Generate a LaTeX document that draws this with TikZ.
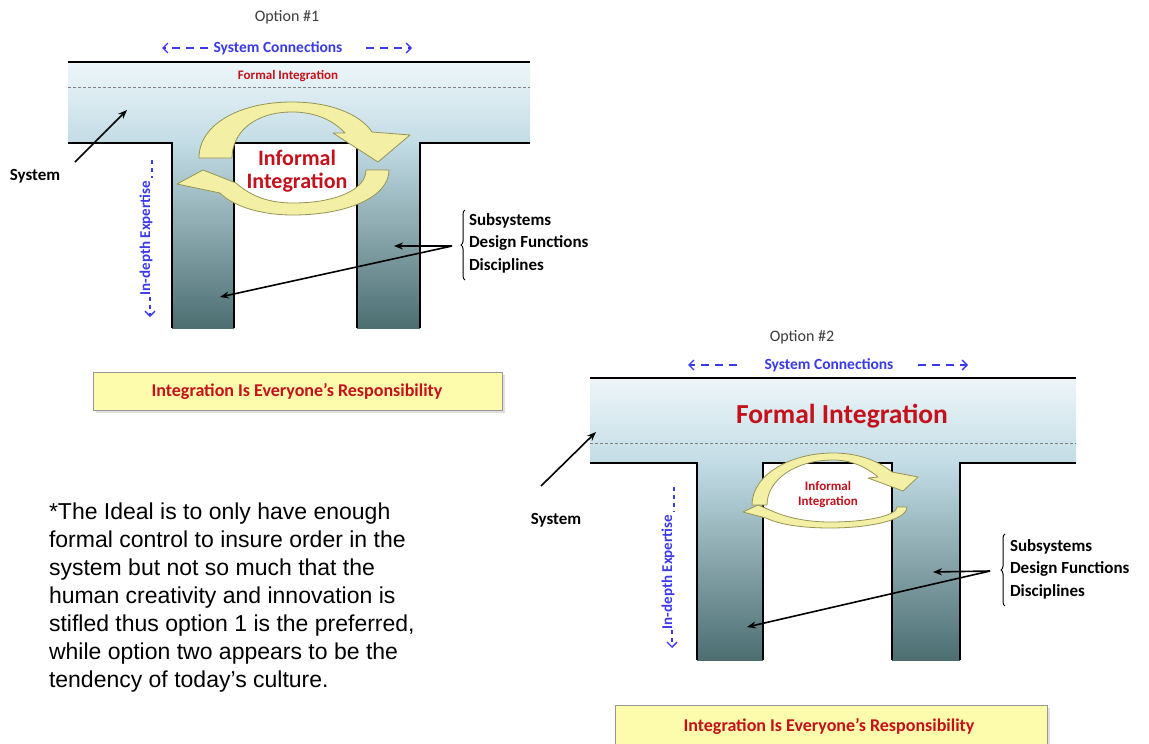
\documentclass[tikz,border=0pt]{standalone}
\usepackage{fontspec}
\setmainfont{Carlito}
\newfontfamily\arialfont{Liberation Sans}
\usetikzlibrary{arrows.meta,decorations.pathreplacing}
\definecolor{barTop}{RGB}{238,246,249}
\definecolor{barBot}{RGB}{194,220,229}
\definecolor{colMid}{RGB}{150,182,190}
\definecolor{colBot}{RGB}{76,110,113}
\definecolor{redtxt}{RGB}{196,18,28}
\definecolor{bluetxt}{RGB}{58,58,232}
\definecolor{arrfill}{RGB}{243,240,165}
\definecolor{arrline}{RGB}{150,148,85}
\definecolor{boxfill}{RGB}{252,252,172}
\definecolor{boxline}{RGB}{150,150,150}
\definecolor{optgray}{RGB}{60,60,60}
\begin{document}
\begin{tikzpicture}[x=1pt,y=-1pt,
  every node/.style={inner sep=0pt,outer sep=0pt},
  outline/.style={line width=2.3pt,black,line join=miter},
  topline/.style={line width=2.8pt,black},
  sepline/.style={gray,line width=0.8pt,dash pattern=on 3pt off 2pt},
  circarrow/.style={fill=arrfill,draw=arrline,line width=0.8pt,line join=round},
  barshade/.style={top color=barTop,bottom color=barBot},
  colshade/.style={top color=barBot,middle color=colMid,bottom color=colBot},
  title/.style={font=\fontsize{16}{19}\selectfont,text=optgray},
  syscon/.style={font=\fontsize{15.5}{18}\selectfont\bfseries,text=bluetxt},
  blued/.style={bluetxt,line width=1.3pt,dash pattern=on 8pt off 6pt,-{Straight Barb[length=5pt,width=10pt]}},
  redlbl/.style={font=\bfseries,text=redtxt,align=center},
  blk/.style={font=\fontsize{17}{22.5}\selectfont\bfseries,text=black},
  ptr/.style={-{Stealth[length=9pt,width=7pt]},line width=1.6pt,black},
  vert/.style={font=\fontsize{15}{17}\selectfont\bfseries,text=bluetxt,rotate=90},
  vdash/.style={bluetxt,line width=1.3pt,dash pattern=on 4pt off 4pt},
  respbox/.style={fill=boxfill,draw=boxline,line width=1pt},
  resptxt/.style={font=\fontsize{18}{22}\selectfont\bfseries,text=redtxt}
]
\useasboundingbox (0,0) rectangle (1149,744);
\fill[white] (0,0) rectangle (1149,744);

% ================= OPTION 1 =================
\shade[barshade] (68,62) rectangle (530,143);
\shade[colshade] (172,143) rectangle (234,328);
\shade[colshade] (357,143) rectangle (420,328);
\draw[sepline] (68,87) -- (530,87);
\draw[topline] (68,62) -- (530,62);
\draw[outline] (68,143) -- (172,143) -- (172,328);
\draw[outline] (234,328) -- (234,143) -- (357,143) -- (357,328);
\draw[outline] (420,328) -- (420,143) -- (530,143);

\node[title] (opt1) at (287,17) {Option \#1};
\node[syscon] (scon1) at (278,48) {System Connections};
\coordinate (sc1la) at (208,48); \coordinate (sc1lb) at (162,48);
\coordinate (sc1ra) at (366,48); \coordinate (sc1rb) at (412,48);
\draw[blued] (sc1la) -- (sc1lb);
\draw[blued] (sc1ra) -- (sc1rb);
\node[redlbl,font=\fontsize{13}{15}\selectfont\bfseries] (fi1) at (288,76) {Formal Integration};

% circular arrows
\draw[circarrow] (199,158) .. controls (199,124) and (240,102) .. (292,102)
  .. controls (330,102) and (360,114) .. (372,132) -- (410,135) -- (378,162)
  -- (333,133) -- (345,133) .. controls (333,120) and (315,112) .. (292,112)
  .. controls (255,112) and (232,132) .. (232,158) -- cycle;
\draw[circarrow] (177,184) -- (203,170) -- (236,183) .. controls (252,197) and (270,203) .. (293,203)
  .. controls (335,203) and (366,190) .. (366,170) -- (389,170)
  .. controls (389,198) and (345,215) .. (293,215)
  .. controls (258,215) and (232,205) .. (220,193) -- cycle;
\node[redlbl,font=\fontsize{22}{23}\selectfont\bfseries] (ii1) at (297,171) {Informal\\Integration};

\node[blk] (sys1) at (35,176) {System};
\coordinate (s1a) at (75,162); \coordinate (s1b) at (127,110);
\draw[ptr] (s1a) -- (s1b);

\node[vert] (exp1) at (146,238) {In-depth Expertise};
\coordinate (e1t) at (152,160); \coordinate (e1tb) at (152,178);
\draw[vdash] (e1t) -- (e1tb);
\coordinate (e1a) at (150,297); \coordinate (e1b) at (150,317);
\draw[vdash,-{Straight Barb[length=5pt,width=10pt]}] (e1a) -- (e1b);

\node[blk,anchor=west,align=left] (sub1) at (469,243) {Subsystems\\Design Functions\\Disciplines};
\draw[line width=1pt,decorate,decoration={brace,amplitude=4pt}] (465,280) -- (465,210);
\coordinate (br1) at (452,246);
\coordinate (c1r) at (394,246); \coordinate (c1l) at (220,297);
\draw[ptr] (br1) -- (c1r);
\draw[ptr] (br1) -- (c1l);

\fill[gray!25] (96,375) rectangle (505,413);
\draw[respbox] (93,372) rectangle (502,410);
\node[resptxt] (resp1) at (297,391) {Integration Is Everyone’s Responsibility};

% ================= OPTION 2 =================
\shade[barshade] (590,378) rectangle (1076,463);
\shade[colshade] (697,463) rectangle (763,660);
\shade[colshade] (892,463) rectangle (960,660);
\draw[sepline] (590,443) -- (1076,443);
\draw[topline] (590,378) -- (1076,378);
\draw[outline] (590,463) -- (697,463) -- (697,660);
\draw[outline] (763,660) -- (763,463) -- (892,463) -- (892,660);
\draw[outline] (960,660) -- (960,463) -- (1076,463);

\node[title] (opt2) at (802,337) {Option \#2};
\node[syscon] (scon2) at (829,365) {System Connections};
\coordinate (sc2la) at (737,365); \coordinate (sc2lb) at (688,365);
\coordinate (sc2ra) at (918,365); \coordinate (sc2rb) at (968,365);
\draw[blued] (sc2la) -- (sc2lb);
\draw[blued] (sc2ra) -- (sc2rb);
\node[redlbl,font=\fontsize{27.5}{30}\selectfont\bfseries] (fi2) at (842,416) {Formal Integration};

\draw[circarrow] (752,505) .. controls (752,475) and (790,453) .. (833,453)
  .. controls (860,453) and (880,462) .. (892,472) -- (918,477) -- (903,491)
  -- (868,478) -- (878,477) .. controls (865,466) and (850,460) .. (833,460)
  .. controls (795,460) and (767,480) .. (767,505) -- cycle;
\draw[circarrow] (743,512) -- (758,505) -- (772,511) .. controls (788,518) and (808,522) .. (830,522)
  .. controls (870,522) and (897,515) .. (897,507) -- (907,507)
  .. controls (907,520) and (870,528) .. (830,528)
  .. controls (800,528) and (778,524) .. (766,518) -- cycle;
\node[redlbl,font=\fontsize{13}{15}\selectfont\bfseries] (ii2) at (828,495) {Informal\\Integration};

\node[blk] (sys2) at (556,520) {System};
\coordinate (s2a) at (541,486); \coordinate (s2b) at (596,432);
\draw[ptr] (s2a) -- (s2b);

\node[vert] (exp2) at (668,572) {In-depth Expertise};
\coordinate (e2t) at (674,487); \coordinate (e2tb) at (674,512);
\draw[vdash] (e2t) -- (e2tb);
\coordinate (e2a) at (672,630); \coordinate (e2b) at (672,648);
\draw[vdash,-{Straight Barb[length=5pt,width=10pt]}] (e2a) -- (e2b);

\node[blk,anchor=west,align=left] (sub2) at (1010,569) {Subsystems\\Design Functions\\Disciplines};
\draw[line width=1pt,decorate,decoration={brace,amplitude=4pt}] (1005,606) -- (1005,534);
\coordinate (br2) at (990,571);
\coordinate (c2r) at (933,572); \coordinate (c2l) at (747,627);
\draw[ptr] (br2) -- (c2r);
\draw[ptr] (br2) -- (c2l);

\fill[gray!25] (618,708) rectangle (1050,744);
\fill[boxfill] (615,705) rectangle (1047,744);
\draw[boxline,line width=1pt] (615,744) -- (615,705) -- (1047,705) -- (1047,744);
\node[resptxt] (resp2) at (829,726) {Integration Is Everyone’s Responsibility};

% ================= NOTE =================
\node[anchor=north west,align=left,font=\arialfont\fontsize{23}{28}\selectfont] (note) at (49,503)
{*The Ideal is to only have enough\\formal control to insure order in the\\system but not so much that the\\human creativity and innovation is\\stifled thus option 1 is the preferred,\\while option two appears to be the\\tendency of today’s culture.};
\end{tikzpicture}
\end{document}
